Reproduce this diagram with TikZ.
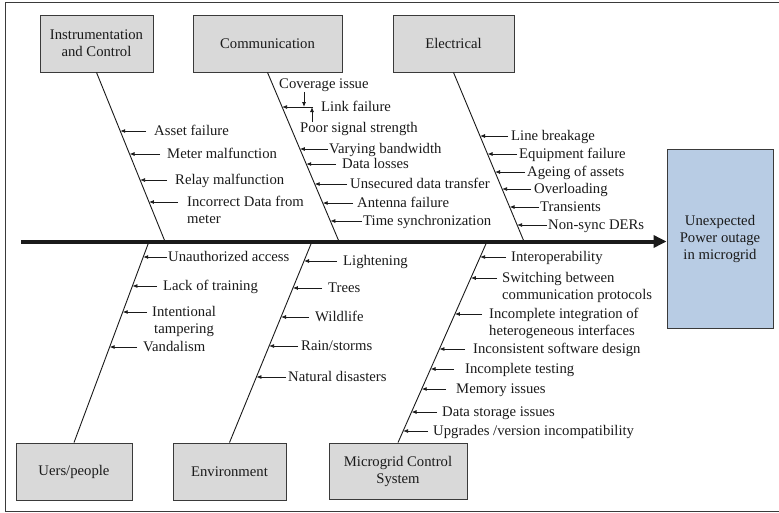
\documentclass[tikz,border=0pt]{standalone}
\usepackage{fontspec}
\setmainfont{Liberation Serif}
\usetikzlibrary{arrows.meta,calc}
\definecolor{boxgray}{HTML}{D9D9D9}
\definecolor{boxline}{HTML}{3A3A3A}
\definecolor{bluefill}{HTML}{B8CCE4}
\definecolor{txt}{HTML}{1A1A1A}
\newcommand\cause[6]{%
  \node[lbl] (#1) at ({#2},{#3+4.5}) {#6};
  \draw[arr] let \p1=(#5T), \p2=(#5B), \p3=([yshift=4.5pt]#1.base west) in
    ([xshift=-#4pt]\p3) -- ({\x1+(\y3-\y1)/(\y2-\y1)*(\x2-\x1)},\y3);
}
\begin{document}
\begin{tikzpicture}[x=1pt,y=-1pt,
  font=\fontsize{14.7}{17}\selectfont,
  every node/.style={text=txt},
  box/.style={draw=boxline, fill=boxgray, line width=0.9pt, align=center, inner sep=0pt},
  lbl/.style={anchor=base west, inner sep=0pt},
  arr/.style={draw=txt, line width=0.8pt, -{Latex[length=5pt,width=4pt]}},
  bone/.style={draw=txt, line width=0.9pt},
  spine/.style={draw=txt, line width=4pt, -{Triangle[length=13pt,width=12pt]}}]
\useasboundingbox (0,0) rectangle (779,512);
\draw[boxline, line width=0.9pt] (5.5,2) rectangle (781,511);

% category boxes
\node[box, minimum width=113pt, minimum height=57pt] (ic) at (96.5,43.5) {Instrumentation\\and Control};
\node[box, minimum width=149pt, minimum height=57pt] (comm) at (267.5,43.5) {Communication};
\node[box, minimum width=121pt, minimum height=57pt] (elec) at (453.5,43.5) {Electrical};
\node[box, minimum width=116pt, minimum height=57pt] (us) at (74,471.5) {Uers/people};
\node[box, minimum width=113pt, minimum height=57pt] (env) at (229.5,471.5) {Environment};
\node[box, minimum width=138pt, minimum height=56pt] (mcs) at (398,471) {Microgrid Control\\System};
\node[box, fill=bluefill, minimum width=106pt, minimum height=179pt] (res) at (720,238.5) {Unexpected\\Power outage\\in microgrid};

% bone coordinates
\coordinate (icT) at (ic.south);   \coordinate (icB) at (165,241.5);
\coordinate (coT) at (comm.south); \coordinate (coB) at (339,241.5);
\coordinate (elT) at (elec.south); \coordinate (elB) at (524,241.5);
\coordinate (usT) at (149,241.5);  \coordinate (usB) at (us.north);
\coordinate (enT) at (312,241.5);  \coordinate (enB) at (env.north);
\coordinate (mcT) at (487,241.5);  \coordinate (mcB) at (mcs.north);
\coordinate (sp0) at (21,241.5);

\draw[bone] (icT) -- (icB);
\draw[bone] (coT) -- (coB);
\draw[bone] (elT) -- (elB);
\draw[bone] (usT) -- (usB);
\draw[bone] (enT) -- (enB);
\draw[bone] (mcT) -- (mcB);
\draw[spine] (sp0) -- (sp0 -| res.west);

% Instrumentation and Control
\cause{ic1}{154}{131}{8}{ic}{Asset failure}
\cause{ic2}{167}{154}{7}{ic}{Meter malfunction}
\cause{ic3}{175}{180}{8}{ic}{Relay malfunction}
\cause{ic4}{187}{202}{9}{ic}{\begin{tabular}[t]{@{}l@{}}Incorrect Data from\\meter\end{tabular}}

% Communication
\node[lbl] (cov) at (279,88.5) {Coverage issue};
\cause{co1}{321}{107}{8}{co}{Link failure}
\node[lbl] (psig) at (300,132.5) {Poor signal strength};
\coordinate (cv) at (304,107);
\coordinate (pv) at (312,107);
\draw[arr] (cv |- cov.south) -- (cv);
\draw[arr] (pv |- psig.north) -- (pv);
\cause{co2}{329}{149}{1}{co}{Varying bandwidth}
\cause{co3}{342}{164}{6}{co}{Data losses}
\cause{co4}{350}{184}{3}{co}{Unsecured data transfer}
\cause{co5}{357}{203}{4}{co}{Antenna failure}
\cause{co6}{363}{221}{1}{co}{Time synchronization}

% Electrical
\cause{el1}{511}{136}{3}{el}{Line breakage}
\cause{el2}{519}{154}{2}{el}{Equipment failure}
\cause{el3}{527}{172}{2}{el}{Ageing of assets}
\cause{el4}{534}{189}{3}{el}{Overloading}
\cause{el5}{540}{207}{1}{el}{Transients}
\cause{el6}{548}{225}{1}{el}{Non-sync DERs}

% Users/people
\cause{us1}{168}{257}{1}{us}{Unauthorized access}
\cause{us2}{163}{286}{6}{us}{Lack of training}
\cause{us3}{152}{312}{5}{us}{\begin{tabular}[t]{@{}c@{}}Intentional\\tampering\end{tabular}}
\cause{us4}{143}{347}{6}{us}{Vandalism}

% Environment
\cause{en1}{343}{261}{6}{en}{Lightening}
\cause{en2}{328}{288}{6}{en}{Trees}
\cause{en3}{315}{317}{6}{en}{Wildlife}
\cause{en4}{301}{346}{3}{en}{Rain/storms}
\cause{en5}{288}{377}{2}{en}{Natural disasters}

% Microgrid Control System
\cause{mc1}{511}{257}{5}{mc}{Interoperability}
\cause{mc2}{502}{278}{5}{mc}{\begin{tabular}[t]{@{}l@{}}Switching between\\communication protocols\end{tabular}}
\cause{mc3}{489}{314}{7}{mc}{\begin{tabular}[t]{@{}l@{}}Incomplete integration of\\heterogeneous interfaces\end{tabular}}
\cause{mc4}{473}{349}{8}{mc}{Inconsistent software design}
\cause{mc5}{465}{369}{11}{mc}{Incomplete testing}
\cause{mc6}{456}{389}{10}{mc}{Memory issues}
\cause{mc7}{442}{412}{5}{mc}{Data storage issues}
\cause{mc8}{433}{431}{5}{mc}{Upgrades /version incompatibility}
\end{tikzpicture}
\end{document}
